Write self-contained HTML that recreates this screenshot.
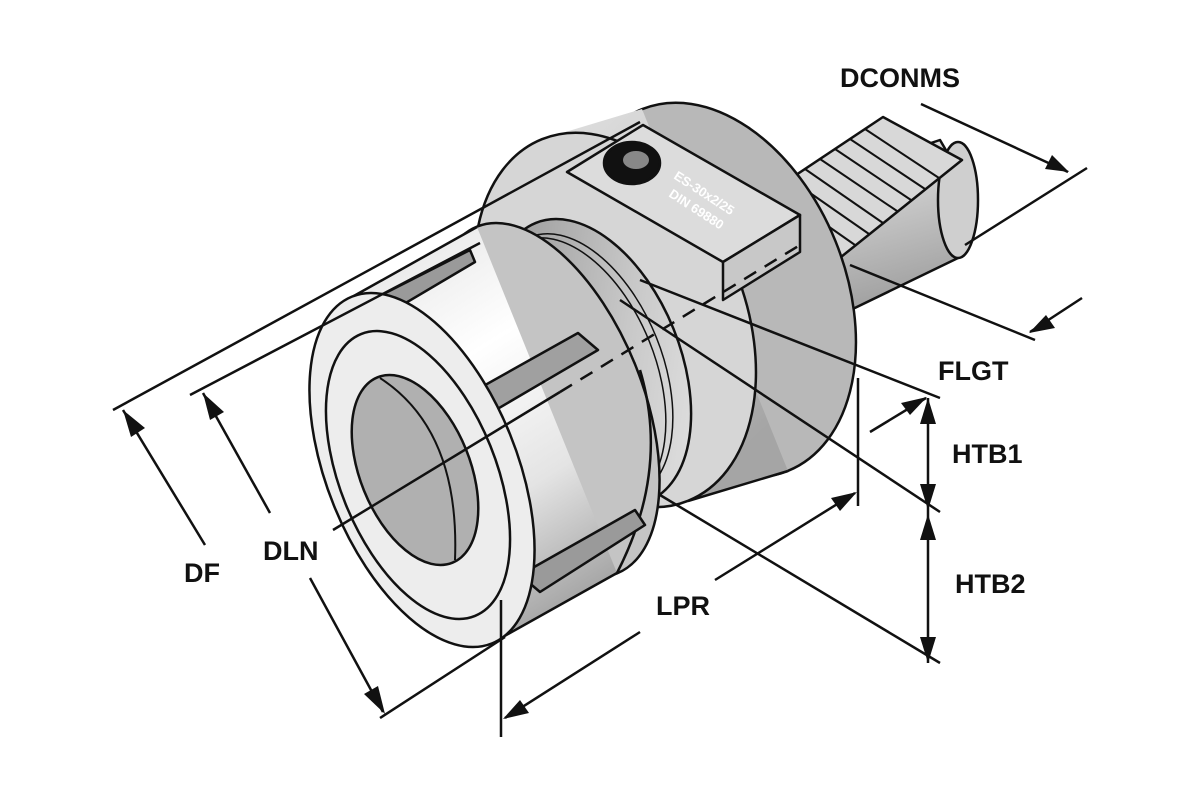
<!DOCTYPE html>
<html><head><meta charset="utf-8"><style>
html,body{margin:0;padding:0;background:#fff;}
svg{display:block;}
text{font-family:"Liberation Sans",Arial,sans-serif;font-weight:bold;}
</style></head><body>
<svg width="1200" height="800" viewBox="0 0 1200 800" xmlns="http://www.w3.org/2000/svg">
<defs>
<linearGradient id="gs" x1="0" y1="0" x2="0.3" y2="1">
<stop offset="0" stop-color="#f2f2f2"/><stop offset="0.5" stop-color="#c5c5c5"/><stop offset="1" stop-color="#9a9a9a"/></linearGradient>
<linearGradient id="gf" x1="0" y1="0" x2="0.6" y2="1">
<stop offset="0" stop-color="#e0e0e0"/><stop offset="0.5" stop-color="#cacaca"/><stop offset="1" stop-color="#a5a5a5"/></linearGradient>
<linearGradient id="gn" x1="0.2" y1="0" x2="0.6" y2="1">
<stop offset="0" stop-color="#e6e6e6"/><stop offset="0.35" stop-color="#ffffff"/><stop offset="0.7" stop-color="#e4e4e4"/><stop offset="1" stop-color="#a5a5a5"/></linearGradient>
<linearGradient id="gb" x1="0" y1="0" x2="1" y2="1">
<stop offset="0" stop-color="#8c8c8c"/><stop offset="0.6" stop-color="#c8c8c8"/><stop offset="1" stop-color="#e8e8e8"/></linearGradient>
</defs>
<g stroke="#111" stroke-width="2.5" stroke-linejoin="round">
<!-- shank -->
<polygon points="760,200 940,140 975,200 958,258 830,320 770,335" fill="url(#gs)"/>
<ellipse cx="958" cy="200" rx="20" ry="58" fill="#cfcfcf"/>
<!-- rack -->
<polygon points="760,199 883,117 962,160 841,257" fill="#d8d8d8"/>
<g stroke-width="2">
<line x1="775" y1="189" x2="855" y2="245"/>
<line x1="790" y1="179" x2="869" y2="234"/>
<line x1="805" y1="169" x2="883" y2="223"/>
<line x1="820" y1="159" x2="897" y2="211"/>
<line x1="835" y1="149" x2="911" y2="200"/>
<line x1="850" y1="139" x2="925" y2="189"/>
<line x1="865" y1="129" x2="939" y2="178"/>
</g>
<!-- flange -->
<ellipse cx="715" cy="290" rx="130" ry="195" transform="rotate(-22 715 290)" fill="#b8b8b8"/>
<polygon points="542,139 642,109 788,471 688,501" fill="url(#gf)" stroke="none"/>
<line x1="688" y1="501" x2="788" y2="471"/>
<ellipse cx="615" cy="320" rx="130" ry="195" transform="rotate(-22 615 320)" fill="#d6d6d6"/>
<!-- block -->
<polygon points="567,172 643,125 800,215 723,262" fill="#dcdcdc"/>
<polygon points="723,262 800,215 800,252 723,300" fill="#c8c8c8"/>
<ellipse cx="632" cy="163" rx="28" ry="21" fill="#111"/>
<ellipse cx="636" cy="160" rx="13" ry="9" fill="#888" stroke="none"/>
<text x="0" y="0" font-size="13" fill="#fff" stroke="none" font-weight="normal" transform="translate(673,178) rotate(33)">ES-30x2/25</text>
<text x="0" y="0" font-size="13" fill="#fff" stroke="none" font-weight="normal" transform="translate(668,196) rotate(33)">DIN 69880</text>
<!-- neck -->
<ellipse cx="592" cy="362" rx="88" ry="150" transform="rotate(-22 592 362)" fill="url(#gb)"/>
<ellipse cx="582" cy="367" rx="80" ry="140" transform="rotate(-22 582 367)" fill="none" stroke-width="1.5"/>
<ellipse cx="575" cy="371" rx="80" ry="140" transform="rotate(-22 575 371)" fill="none" stroke-width="1.5"/>
<!-- nut -->
<ellipse cx="547" cy="400" rx="95" ry="187" transform="rotate(-22 547 400)" fill="#c4c4c4"/>
<polygon points="352,297 477,227 617,573 492,643" fill="url(#gn)" stroke="none"/>
<line x1="352" y1="297" x2="477" y2="227"/>
<line x1="492" y1="643" x2="617" y2="573"/>
<path d="M617,573 Q670,470 640,370" fill="none"/>
<!-- slots -->
<polygon points="352,310 470,250 475,262 360,330" fill="#9a9a9a"/>
<polygon points="462,398 578,333 598,350 482,418" fill="#a0a0a0"/>
<polygon points="520,575 635,510 645,525 540,592" fill="#9a9a9a"/>
<!-- front face -->
<ellipse cx="422" cy="470" rx="95" ry="187" transform="rotate(-22 422 470)" fill="#ededed"/>
<ellipse cx="418" cy="475" rx="78" ry="152" transform="rotate(-22 418 475)" fill="none"/>
<ellipse cx="415" cy="470" rx="55" ry="100" transform="rotate(-22 415 470)" fill="#b0b0b0"/>
<path d="M380,378 Q460,430 455,560" fill="none" stroke-width="2"/>
</g>
<!-- dimension lines -->
<g stroke="#111" stroke-width="2.5" fill="none">
<line x1="113" y1="410" x2="640" y2="122"/>
<line x1="190" y1="395" x2="480" y2="243"/>
<line x1="205" y1="545" x2="123" y2="410"/>
<line x1="270" y1="513" x2="203" y2="393"/>
<line x1="310" y1="578" x2="383" y2="712"/>
<line x1="380" y1="718" x2="505" y2="637"/>
<line x1="501" y1="600" x2="501" y2="737"/>
<line x1="640" y1="632" x2="505" y2="718"/>
<line x1="715" y1="580" x2="855" y2="493"/>
<line x1="858" y1="378" x2="858" y2="506"/>
<line x1="333" y1="530" x2="560" y2="392"/>
<line x1="560" y1="392" x2="800" y2="245" stroke-dasharray="14,10"/>
<line x1="640" y1="280" x2="940" y2="398"/>
<line x1="620" y1="300" x2="940" y2="512"/>
<line x1="660" y1="495" x2="940" y2="663"/>
<line x1="928" y1="398" x2="928" y2="663"/>
<line x1="870" y1="432" x2="926" y2="398"/>
<line x1="850" y1="265" x2="1035" y2="340"/>
<line x1="1082" y1="298" x2="1030" y2="332"/>
<line x1="921" y1="104" x2="1068" y2="172"/>
<line x1="1087" y1="168" x2="965" y2="245"/>
</g>
<g fill="#111">
<polygon points="123,410 145,428 131,437"/>
<polygon points="203,393 224,412 210,420"/>
<polygon points="385,714 364,694 378,686"/>
<polygon points="503,719 520,700 529,713"/>
<polygon points="857,492 840,511 831,498"/>
<polygon points="928,398 920,424 936,424"/>
<polygon points="928,510 920,484 936,484"/>
<polygon points="928,514 920,540 936,540"/>
<polygon points="928,663 920,637 936,637"/>
<polygon points="927,397 910,415 901,403"/>
<polygon points="1029,333 1046,315 1055,328"/>
<polygon points="1069,172 1045,169 1052,155"/>
</g>
<g font-size="27" fill="#111">
<text x="840" y="87">DCONMS</text>
<text x="938" y="380">FLGT</text>
<text x="952" y="463">HTB1</text>
<text x="955" y="593">HTB2</text>
<text x="656" y="615">LPR</text>
<text x="263" y="560">DLN</text>
<text x="184" y="582">DF</text>
</g>
</svg>
</body></html>
